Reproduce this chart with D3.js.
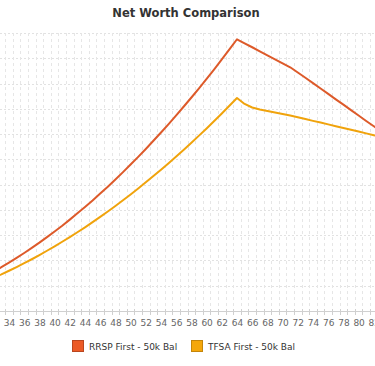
<!DOCTYPE html>
<html><head><meta charset="utf-8">
<script src="https://cdn.jsdelivr.net/npm/d3@7/dist/d3.min.js"></script>
<style>html,body{margin:0;padding:0;background:#fff;overflow:hidden}</style>
</head><body>
<svg id="c" width="375" height="366"></svg>
<script>
const title = "Net Worth Comparison";
const ages = [32,33,34,35,36,37,38,39,40,41,42,43,44,45,46,47,48,49,50,51,52,53,54,55,56,57,58,59,60,61,62,63,64,65,66,67,68,69,70,71,72,73,74,75,76,77,78,79,80,81,82,83];
// net worth, $ thousands
const rrspFirst = [391,433,478,525,574,624,676,731,787,844,904,966,1029,1094,1162,1230,1301,1374,1449,1525,1603,1684,1766,1849,1935,2023,2112,2203,2296,2391,2488,2587,2688,2648,2609,2569,2529,2490,2450,2411,2359,2307,2254,2201,2148,2094,2041,1987,1934,1880,1828,1776];
const tfsaFirst = [329,362,398,435,473,512,553,596,639,685,731,779,828,879,931,984,1039,1096,1153,1212,1273,1335,1398,1462,1528,1596,1665,1735,1806,1879,1954,2030,2107,2048,2013,1993,1978,1964,1949,1934,1917,1899,1881,1864,1846,1828,1810,1792,1775,1757,1739,1721];
const tickLabels = [34,36,38,40,42,44,46,48,50,52,54,56,58,60,62,64,66,68,70,72,74,76,78,80,82];
const seriesNames = ["RRSP First - 50k Bal","TFSA First - 50k Bal"];
const seriesColors = ["#dd5a2a","#f0a30c"];
const swatchColors = ["#ec5a26","#f5a70a"];
const swatchBorders = ["#b9461f","#c4850a"];
const yTickStep = 250;
const yMax = 2750;

const svg = d3.select("#c");
const W = 375, plotTop = 33, plotBottom = 311;
const x = d3.scaleLinear().domain([34, 82]).range([9, 373.8]);
const y = d3.scaleLinear().domain([0, yMax]).range([plotBottom, plotTop]);

svg.append("defs").append("clipPath").attr("id","clip")
  .append("rect").attr("x",0).attr("y",plotTop-5).attr("width",W).attr("height",plotBottom-plotTop+5);

// title
svg.append("text").attr("x",186).attr("y",17).attr("text-anchor","middle")
  .attr("font-family","DejaVu Sans").attr("font-weight","bold").attr("font-size","11.5px")
  .attr("fill","#333").text(title);

// grid
const g = svg.append("g");
const yTicks = d3.range(0, yMax + 1, yTickStep);
g.selectAll("line.h").data(yTicks.filter(v => v > 0)).join("line")
  .attr("x1",0).attr("x2",W).attr("y1",d=>Math.round(y(d))+0.5).attr("y2",d=>Math.round(y(d))+0.5)
  .attr("stroke","#e2e2e2").attr("stroke-dasharray","2,2");
const gridAges = d3.range(32.5, 83, 1);
g.selectAll("line.v").data(gridAges).join("line")
  .attr("x1",d=>Math.round(x(d))+0.5).attr("x2",d=>Math.round(x(d))+0.5).attr("y1",plotTop).attr("y2",plotBottom)
  .attr("stroke","#e6e6e6").attr("stroke-dasharray","3,3");

// x axis
const axis = d3.axisBottom(x).tickValues(tickLabels).tickSize(0).tickPadding(9)
  .tickFormat(d3.format("d"));
const ax = svg.append("g").attr("transform",`translate(0,${plotBottom})`).call(axis);
ax.select(".domain").remove();
ax.selectAll("text").attr("font-family","DejaVu Sans").attr("font-size","9px").attr("fill","#666");
svg.append("line").attr("x1",0).attr("x2",W).attr("y1",plotBottom+0.5).attr("y2",plotBottom+0.5).attr("stroke","#d0d0d0");
svg.selectAll("line.tk").data(gridAges).join("line")
  .attr("x1",d=>Math.round(x(d))+0.5).attr("x2",d=>Math.round(x(d))+0.5).attr("y1",plotBottom-2).attr("y2",plotBottom+4)
  .attr("stroke","#d0d0d0");

// lines
const line = d3.line().x((d,i)=>x(ages[i])).y(d=>y(d)).curve(d3.curveLinear);
const lg = svg.append("g").attr("clip-path","url(#clip)");
[rrspFirst, tfsaFirst].forEach((s,k)=>{
  lg.append("path").datum(s).attr("d",line).attr("fill","none")
    .attr("stroke",seriesColors[k]).attr("stroke-width",2).attr("stroke-linejoin","round");
});

// legend
const legX = [72, 191];
seriesNames.forEach((n,k)=>{
  svg.append("rect").attr("x",legX[k]+0.5).attr("y",340.5).attr("width",11).attr("height",11)
    .attr("fill",swatchColors[k]).attr("stroke",swatchBorders[k]).attr("stroke-width",1);
  svg.append("text").attr("x",legX[k]+17).attr("y",349.5).attr("font-family","DejaVu Sans")
    .attr("font-size","9px").attr("fill","#333").text(n);
});
</script>
</body></html>
